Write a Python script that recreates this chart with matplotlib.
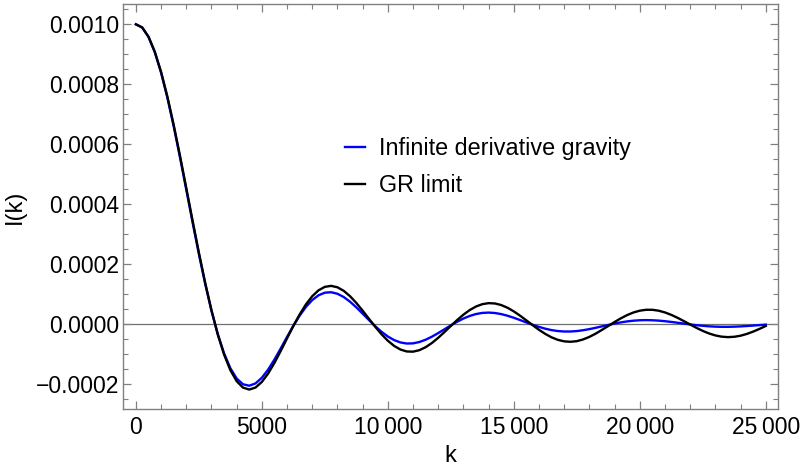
import numpy as np
import matplotlib
matplotlib.use("Agg")
import matplotlib.pyplot as plt
from matplotlib.ticker import MultipleLocator, FuncFormatter

plt.rcParams['font.family'] = ['Liberation Sans', 'DejaVu Sans']

# k sampled every 250 from 0 to 25000
k_start, k_step, n_pts = 0, 250, 101
k = k_start + k_step * np.arange(n_pts)

# I(k) in units of 1e-4
gr_limit = [
    10.0, 9.8962, 9.5885, 9.0885, 8.4147, 7.5919, 6.6500, 5.6228, 4.5465, 3.4581,
    2.3939, 1.3879, 0.4704, -0.3329, -1.0022, -1.5242, -1.8920, -2.1059, -2.1723, -2.1038,
    -1.9178, -1.6361, -1.2828, -0.8840, -0.4657, -0.0531, 0.3310, 0.6667, 0.9385, 1.1353,
    1.2507, 1.2834, 1.2367, 1.1183, 0.9394, 0.7140, 0.4579, 0.1880, -0.0791, -0.3277,
    -0.5440, -0.7168, -0.8378, -0.9023, -0.9091, -0.8603, -0.7613, -0.6201, -0.4471, -0.2540,
    -0.0531, 0.1432, 0.3232, 0.4767, 0.5954, 0.6734, 0.7076, 0.6973, 0.6448, 0.5546,
    0.4335, 0.2899, 0.1332, -0.0267, -0.1799, -0.3175, -0.4317, -0.5155, -0.5655, -0.5795,
    -0.5599, -0.5020, -0.4172, -0.3092, -0.1829, -0.0530, 0.0789, 0.2025, 0.3105, 0.3968,
    0.4565, 0.4867, 0.4863, 0.4560, 0.3984, 0.3177, 0.2194, 0.1098, -0.0040, -0.1150,
    -0.2165, -0.3025, -0.3679, -0.4094, -0.4247, -0.4136, -0.3773, -0.3185, -0.2414, -0.1509,
    -0.0529,
]
idg = [
    10.0, 9.8943, 9.5813, 9.0731, 8.3895, 7.5564, 6.6053, 5.5714, 4.4923, 3.4060,
    2.3494, 1.3568, 0.4579, -0.3225, -0.9660, -1.4612, -1.8033, -1.9948, -2.0443, -1.9661,
    -1.7792, -1.5063, -1.1715, -0.8005, -0.4180, -0.0472, 0.2916, 0.5815, 0.8102, 0.9697,
    1.0565, 1.0718, 1.0207, 0.9118, 0.7563, 0.5675, 0.3591, 0.1454, -0.0603, -0.2464,
    -0.4030, -0.5230, -0.6019, -0.6379, -0.6323, -0.5885, -0.5120, -0.4098, -0.2903, -0.1619,
    -0.0332, 0.0879, 0.1947, 0.2815, 0.3446, 0.3819, 0.3930, 0.3792, 0.3432, 0.2888,
    0.2207, 0.1443, 0.0648, -0.0127, -0.0835, -0.1438, -0.1908, -0.2222, -0.2376, -0.2373,
    -0.2234, -0.1951, -0.1578, -0.1138, -0.0655, -0.0185, 0.0267, 0.0666, 0.0992, 0.1231,
    0.1375, 0.1422, 0.1378, 0.1253, 0.1061, 0.0820, 0.0548, 0.0266, -0.0009, -0.0260,
    -0.0474, -0.0640, -0.0753, -0.0809, -0.0810, -0.0761, -0.0670, -0.0546, -0.0399, -0.0240,
    -0.0081,
]
labels = ["Infinite derivative gravity", "GR limit"]

gr = np.array(gr_limit) * 1e-4
ig = np.array(idg) * 1e-4

fig = plt.figure(figsize=(8, 4.73), dpi=100)
ax = fig.add_axes([0.1541, 0.1353, 0.8188, 0.8556])

frame_col = '#808080'
ax.axhline(0, color='#707070', lw=0.9, zorder=1)
ax.plot(k, ig, color=(0, 0, 1), lw=1.7, label=labels[0], zorder=2)
ax.plot(k, gr, color='black', lw=1.7, label=labels[1], zorder=3)

ax.set_xlim(-500, 25500)
ax.set_ylim(-0.000282, 0.0010667)

ax.xaxis.set_major_locator(MultipleLocator(5000))
ax.xaxis.set_minor_locator(MultipleLocator(1000))
ax.yaxis.set_major_locator(MultipleLocator(0.0002))
ax.yaxis.set_minor_locator(MultipleLocator(0.00005))


def fmt_x(v, pos):
    s = f"{int(round(v)):d}"
    if len(s) > 4:
        s = s[:-3] + "\u2009" + s[-3:]
    return s


def fmt_y(v, pos):
    s = f"{abs(v):.4f}"
    return ("\u2212" + s) if v < -1e-12 else s


ax.xaxis.set_major_formatter(FuncFormatter(fmt_x))
ax.yaxis.set_major_formatter(FuncFormatter(fmt_y))

for sp in ax.spines.values():
    sp.set_color(frame_col)
    sp.set_linewidth(1.0)
ax.tick_params(which='both', direction='in', top=True, right=True,
               color=frame_col, labelsize=16.5, labelcolor='black')
ax.tick_params(which='major', length=6, width=0.9)
ax.tick_params(which='minor', length=3.5, width=0.8)
ax.tick_params(axis='y', which='major', pad=3)
ax.tick_params(axis='x', which='major', pad=5)

ax.set_xlabel("k", fontsize=17, labelpad=4)
ax.set_ylabel("I(k)", fontsize=17, labelpad=7)

ax.legend(loc='upper left', bbox_to_anchor=(0.431, 0.711), bbox_transform=fig.transFigure,
          frameon=False, fontsize=16.8, handlelength=0.87, handletextpad=0.6,
          labelspacing=0.6, borderpad=0, borderaxespad=0)

fig.savefig("out.png", dpi=100)
